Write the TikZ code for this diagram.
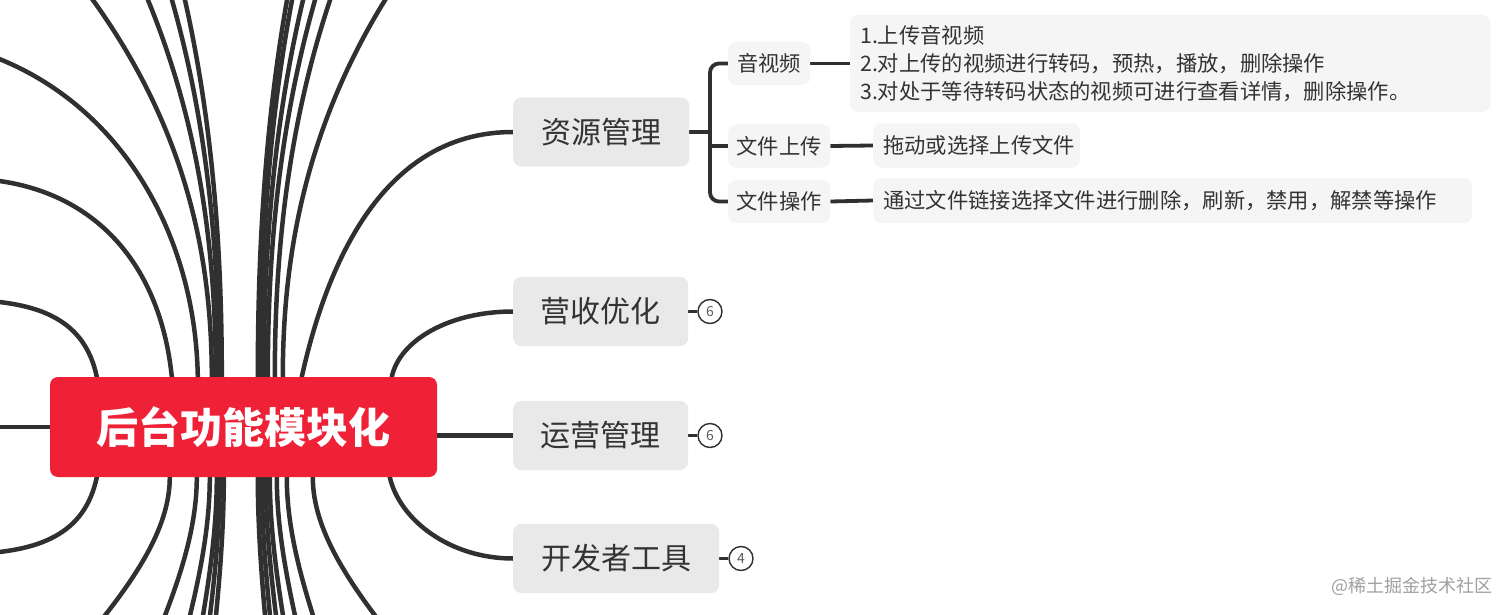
\documentclass[tikz,border=0pt]{standalone}
\usepackage{fontspec}
\setmainfont{Noto Sans CJK SC}
\usetikzlibrary{calc,backgrounds}
\definecolor{linec}{RGB}{48,48,48}
\definecolor{redc}{RGB}{238,33,55}
\definecolor{lonefill}{RGB}{233,233,233}
\definecolor{ltwofill}{RGB}{245,245,245}
\definecolor{txtc}{RGB}{51,51,51}
\definecolor{wmc}{RGB}{160,160,160}
\begin{document}
\begin{tikzpicture}[x=1pt,y=-1pt,
  branch/.style={draw=linec, line width=4.5pt, line cap=round},
  subline/.style={draw=linec, line width=3.8pt},
  cntline/.style={draw=linec, line width=3pt},
  centerbox/.style={fill=redc, rounded corners=8pt, minimum width=387pt, minimum height=100pt, text=white, font=\fontsize{42}{50}\selectfont\bfseries, inner sep=0pt},
  lone/.style={fill=lonefill, rounded corners=8pt, minimum height=69pt, text=txtc, font=\fontsize{30}{36}\selectfont, inner sep=0pt, anchor=west},
  ltwo/.style={fill=ltwofill, rounded corners=8pt, minimum height=43pt, text=txtc, font=\fontsize{21.3}{28}\selectfont, inner sep=0pt, anchor=west},
  cnt/.style={circle, draw=linec, line width=1.4pt, fill=white, minimum size=24pt, inner sep=0pt, text=txtc!80, font=\fontsize{14}{14}\selectfont},
]
\useasboundingbox (0,0) rectangle (1512,615);

% nodes
\node[centerbox] (c) at (243.5,427) {后台功能模块化};
\node[lone, minimum width=176pt] (zy) at (513,132) {资源管理};
\node[lone, minimum width=175pt] (ys) at (513,311.5) {营收优化};
\node[lone, minimum width=175pt] (yy) at (513,435.5) {运营管理};
\node[lone, minimum width=206pt] (kf) at (513,558.5) {开发者工具};

\node[ltwo, minimum width=82pt] (av) at (728,63.5) {音视频};
\node[ltwo, minimum width=102pt] (fu) at (728,146) {文件上传};
\node[ltwo, minimum width=102pt] (fo) at (728,201.5) {文件操作};

\node[ltwo, minimum height=97pt, text width=620pt, inner xsep=10pt, align=left] (d1) at (850,63.5) {1.上传音视频\\2.对上传的视频进行转码，预热，播放，删除操作\\3.对处于等待转码状态的视频可进行查看详情，删除操作。};
\node[ltwo, minimum height=44pt, text width=187pt, inner xsep=10pt, align=left] (d2) at (873,145.5) {拖动或选择上传文件};
\node[ltwo, minimum height=45pt, text width=579pt, inner xsep=10pt, align=left] (d3) at (873,200.5) {通过文件链接选择文件进行删除，刷新，禁用，解禁等操作};

\node[cnt] (n1) at (710,311.5) {6};
\node[cnt] (n2) at (710,435.5) {6};
\node[cnt] (n3) at (741,558.5) {4};

\node[text=wmc, font=\fontsize{18}{18}\selectfont, anchor=east, inner sep=0pt] (wm) at (1493,586) {@稀土掘金技术社区};

\coordinate (spine) at (710,132);

\begin{scope}[on background layer]
\fill[white] (0,0) rectangle (1512,615);
\clip (0,0) rectangle (1512,615);

% visible branches
\draw[branch] ($(c.north west)+(252,0)$) .. controls +(28,-127) and +(-123,0) .. (zy.west);
\draw[branch] ($(c.north west)+(342,0)$) .. controls +(8,-37) and +(-63,0) .. (ys.west);
\draw[branch] (c.east |- yy.west) -- (yy.west);
\draw[branch] ($(c.south west)+(340,0)$) .. controls +(10,43) and +(-63,0) .. (kf.west);

% count markers
\draw[cntline] (ys.east) -- (n1.west);
\draw[cntline] (yy.east) -- (n2.west);
\draw[cntline] (kf.east) -- (n3.west);

% sub tree of zy
\draw[subline] (zy.east) -- (spine);
\draw[subline, rounded corners=9pt] (av.west) -- (av.west -| spine) -- (fo.west -| spine) -- (fo.west);
\draw[subline] (fu.west -| spine) -- (fu.west);
\draw[subline] (av.east) -- (d1.west);
\draw[subline] (fu.east) -- (d2.west);
\draw[subline] (fo.east) -- (d3.west);

% off-canvas branches
\coordinate (lw) at (-30,427);
\draw[branch] (c.west) -- (lw);

\coordinate (l1) at (-30,300);
\draw[branch] ($(c.north west)+(47,0)$) .. controls +(-12,-57) and +(70,2) .. (l1);
\coordinate (l2) at (-20,179);
\draw[branch] ($(c.north west)+(122,0)$) .. controls +(-12,-117) and +(110,7) .. (l2);
\coordinate (l3) at (-120,36);
\draw[branch] ($(c.north west)+(148,0)$) .. controls +(-3,-177) and +(200,2) .. (l3);
\coordinate (l4) at (-30,554);
\draw[branch] ($(c.south west)+(47,0)$) .. controls +(-12,57) and +(70,-2) .. (l4);

\foreach \xs/\xt [count=\i] in {212/93,216/148,219/172,222/185,258/287,261/292,264/303,268/315,275/330,283/385}{
  \coordinate (t\i) at ({\xs+1.245*(\xt-\xs)},-37.7);
  \draw[branch] ($(c.north west)+({\xs-50},0)$) .. controls +(0,-138.2) and +({-0.9545*(\xt-\xs)},138.2) .. (t\i);
}
\foreach \xs/\xb [count=\i] in {170/105,197/165,210/190,217/203,220/210,224/216,258/265,262/270,266/276,270/283,277/295,287/313,313/375}{
  \coordinate (b\i) at ({\xs+1.2506*(\xb-\xs)},635.7);
  \draw[branch] ($(c.south west)+({\xs-50},0)$) .. controls +(0,52.9) and +({-0.667*(\xb-\xs)},-52.9) .. (b\i);
}
\end{scope}
\end{tikzpicture}
\end{document}
